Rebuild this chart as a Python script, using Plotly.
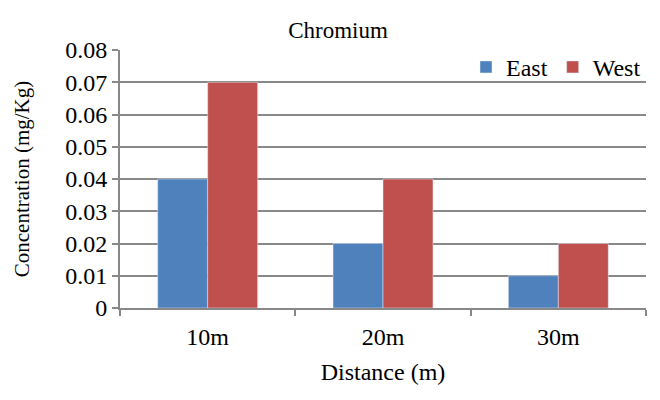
import plotly.graph_objects as go

distances = ["10m", "20m", "30m"]
east = [0.04, 0.02, 0.01]
west = [0.07, 0.04, 0.02]
y_ticks = [0, 0.01, 0.02, 0.03, 0.04, 0.05, 0.06, 0.07, 0.08]
y_labels = ["0", "0.01", "0.02", "0.03", "0.04", "0.05", "0.06", "0.07", "0.08"]

serif = "Liberation Serif"
grey = "#888888"

fig = go.Figure()
fig.add_trace(go.Bar(x=distances, y=east, name="East", marker_color="#4F81BD"))
fig.add_trace(go.Bar(x=distances, y=west, name="West", marker_color="#C0504D"))

# page body adds 8px, so margins are shifted to compensate
fig.update_layout(
    width=660, height=400,
    margin=dict(l=112, r=22, t=42, b=100),
    plot_bgcolor="white", paper_bgcolor="white",
    font=dict(family=serif, size=24, color="black"),
    title=dict(text="Chromium", x=0.5, xanchor="center", y=0.945, yanchor="middle",
               font=dict(size=23)),
    barmode="group", bargap=0.43, bargroupgap=0,
    legend=dict(orientation="h", x=1, xanchor="right", y=1.02, yanchor="top",
                bgcolor="rgba(0,0,0,0)", font=dict(size=24), itemwidth=30,
                traceorder="normal"),
)
fig.update_yaxes(range=[0, 0.08], tickvals=y_ticks, ticktext=y_labels,
                 showgrid=True, gridcolor=grey, gridwidth=1.5,
                 showline=True, linecolor=grey, linewidth=2,
                 ticks="outside", ticklen=6, tickcolor=grey, tickwidth=2,
                 zeroline=False,
                 title=dict(text="Concentration (mg/Kg)", standoff=30, font=dict(size=21)))
fig.update_xaxes(showline=True, linecolor=grey, linewidth=2,
                 ticks="outside", ticklen=6, tickcolor=grey, tickwidth=2,
                 tickson="boundaries", ticklabelstandoff=6,
                 title=dict(text="Distance (m)", standoff=14, font=dict(size=24)))

fig.write_html("out.html")
